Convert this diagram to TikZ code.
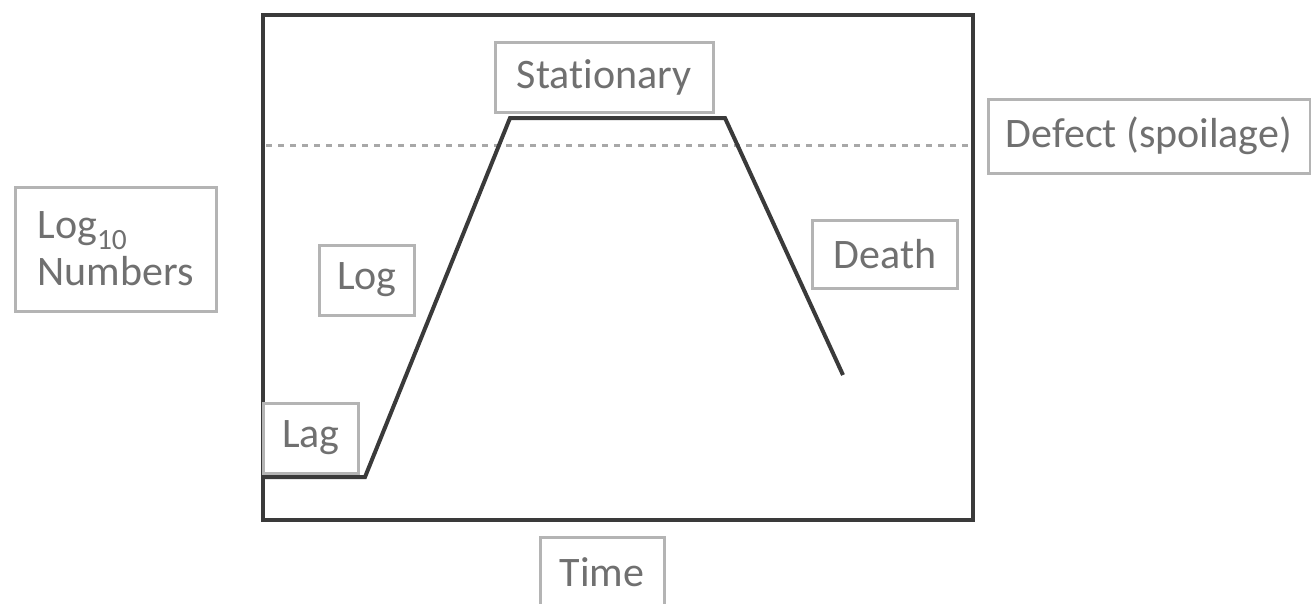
\documentclass[tikz,border=0pt]{standalone}
\usepackage{fontspec}
\setmainfont[Ligatures=NoCommon]{Carlito}
\definecolor{txt}{HTML}{707070}
\definecolor{boxc}{HTML}{B4B4B4}
\definecolor{linec}{HTML}{3A3A3A}
\definecolor{dashc}{HTML}{A8A8A8}
\begin{document}
\begin{tikzpicture}[x=1pt,y=-1pt,
  lbl/.style={draw=boxc, line width=3pt, fill=white, text=txt, inner sep=0pt,
    font=\fontsize{42}{47}\selectfont, anchor=center},
  curve/.style={draw=linec, line width=4pt, line join=miter},
  frame/.style={draw=linec, line width=4.5pt}]
\useasboundingbox (0,0) rectangle (1311,603);
% frame
\draw[frame] (263,15) rectangle (973,520);
% dashed defect level
\coordinate (d0) at (266,145);
\coordinate (d1) at (970,145);
\draw[dashc, line width=3pt, dash pattern=on 6pt off 6pt] (d0) -- (d1);
% growth curve
\coordinate (p0) at (263,477);
\coordinate (p1) at (365,477);
\coordinate (p2) at (510,118);
\coordinate (p3) at (725,118);
\coordinate (p4) at (843,375);
\draw[curve] (p0) -- (p1) -- (p2) -- (p3) -- (p4);
% labels
\node[lbl, minimum width=201pt, minimum height=124pt, align=left] (lognum) at (115.5,249)
  {Log\textsubscript{10}\\Numbers};
\node[lbl, minimum width=95pt, minimum height=70pt] (lag) at (311,438) {Lag};
\node[lbl, minimum width=95pt, minimum height=70pt] (log) at (367,280) {Log};
\node[lbl, minimum width=218pt, minimum height=70pt] (stat) at (604,77) {Stationary};
\node[lbl, minimum width=322pt, minimum height=74pt] (defect) at (1149,136) {Defect (spoilage)};
\node[lbl, minimum width=145pt, minimum height=68pt] (death) at (885,254) {Death};
\node[lbl, minimum width=124pt, minimum height=70pt] (time) at (602,572) {Time};
\end{tikzpicture}
\end{document}
